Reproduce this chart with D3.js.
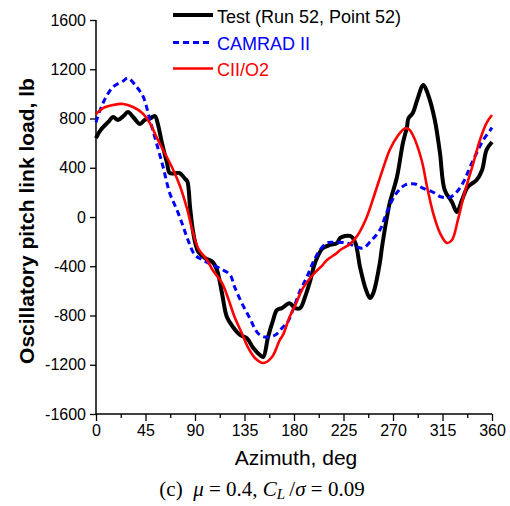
<!DOCTYPE html>
<html>
<head>
<meta charset="utf-8">
<script src="https://cdn.jsdelivr.net/npm/d3@7"></script>
<style>
  html, body { margin: 0; padding: 0; background: #fff; }
  svg { display: block; }
</style>
</head>
<body>
<svg id="chart" width="510" height="506"></svg>
<script>
// ---- data ----
const seriesNames = ["Test (Run 52, Point 52)", "CAMRAD II", "CII/O2"];

const testAz = [0, 3, 6.4, 11, 15.5, 20, 25, 29, 34, 40, 44.5, 49, 53.6, 56, 60, 64.5, 67, 72, 76, 81, 83, 85.5, 88, 90.5, 93, 99, 106, 110, 114.5, 119, 124.5, 131, 137, 143, 149, 152, 156.4, 161, 164.5, 169, 176, 181, 185.5, 190, 195, 199, 206, 213, 219, 222, 231, 235.5, 240, 245, 249, 252, 258, 260, 264.5, 267, 273.6, 279, 282.7, 284, 288, 292, 297.6, 302, 308, 312.7, 317, 323.6, 328, 332.7, 338, 346, 351, 355, 360];
const testVal = [640, 690, 730, 770, 812, 788, 820, 853, 810, 755, 790, 800, 820, 763, 600, 440, 357, 355, 357, 310, 290, 80, -105, -220, -284, -333, -365, -430, -617, -812, -893, -958, -983, -1064, -1121, -1137, -975, -837, -755, -740, -700, -740, -740, -650, -510, -375, -255, -227, -213, -170, -154, -203, -406, -580, -658, -620, -374, -244, 0, 114, 325, 601, 731, 800, 845, 950, 1072, 991, 788, 520, 219, 122, 41, 138, 244, 300, 382, 544, 609];

const camAz = [0, 6.4, 15.5, 24.8, 29, 37, 43, 49, 55, 61, 67, 73.6, 79, 83.6, 90, 97, 106, 115.5, 122, 126, 132.5, 140, 147, 153.6, 163, 170, 174.5, 179, 185.5, 191.8, 197, 203.6, 210, 215, 228, 237, 243, 249, 258, 264.5, 272, 281, 290, 297, 306, 314, 322, 328, 335, 340, 346, 352, 358, 360];
const camVal = [770, 926, 1056, 1105, 1129, 1056, 975, 788, 600, 406, 195, 57, -70, -187, -309, -349, -390, -430, -471, -568, -698, -825, -942, -975, -958, -893, -850, -755, -600, -487, -374, -268, -211, -205, -211, -244, -252, -203, -106, 40, 179, 260, 268, 235, 203, 162, 162, 203, 300, 406, 520, 625, 700, 725];

const ciiAz = [0, 6.4, 15.5, 24.8, 33.6, 42, 49, 55, 61, 69, 76, 82.7, 88, 93, 101, 106, 114.5, 120, 126, 132.5, 138, 144.5, 152, 160, 167, 170, 176, 181, 188, 197, 206, 210, 219, 222, 231, 238, 246, 253.6, 261, 267, 273.6, 281, 284, 288, 296, 301, 306.5, 312.7, 319, 323.6, 329, 335, 342, 349, 355, 360];
const ciiVal = [835, 885, 910, 918, 893, 845, 763, 650, 544, 406, 260, 70, -120, -256, -349, -430, -536, -658, -812, -942, -1056, -1145, -1186, -1137, -999, -958, -812, -720, -580, -471, -390, -349, -292, -268, -219, -146, -4, 195, 395, 544, 650, 720, 715, 666, 463, 244, 32, -130, -211, -187, -24, 195, 406, 625, 763, 828];

const xTicks = [0, 45, 90, 135, 180, 225, 270, 315, 360];
const xMinorTicks = [22.5, 67.5, 112.5, 157.5, 202.5, 247.5, 292.5, 337.5];
const yTicks = [-1600, -1200, -800, -400, 0, 400, 800, 1200, 1600];

// ---- drawing ----
const svg = d3.select("#chart");
const x = d3.scaleLinear().domain([0, 360]).range([96, 492]);
const y = d3.scaleLinear().domain([-1600, 1600]).range([414, 20]);

const sans = "'Liberation Sans', Arial, sans-serif";
const serif = "'Liberation Serif', 'Times New Roman', serif";
const plainFmt = d => String(d);

// axes
const xAxis = svg.append("g").attr("transform", `translate(0,${y(-1600)})`)
  .call(d3.axisBottom(x).tickValues(xTicks).tickSize(7).tickPadding(4).tickFormat(plainFmt));
const xMinor = svg.append("g").attr("transform", `translate(0,${y(-1600)})`)
  .call(d3.axisBottom(x).tickValues(xMinorTicks).tickSize(4).tickFormat(""));
const yAxis = svg.append("g").attr("transform", `translate(${x(0)},0)`)
  .call(d3.axisLeft(y).tickValues(yTicks).tickSize(6).tickPadding(4).tickFormat(plainFmt));

[xAxis, xMinor, yAxis].forEach(g => {
  g.select(".domain").attr("stroke", "#000").attr("stroke-width", 1.5);
  g.selectAll(".tick line").attr("stroke", "#000").attr("stroke-width", 1.3);
  g.selectAll(".tick text").attr("fill", "#000").attr("font-family", sans).attr("font-size", 16);
});
xMinor.select(".domain").remove();
xAxis.select(".domain").attr("d", `M${x(0)},0H${x(360)}`);
yAxis.select(".domain").attr("d", `M0,${y(-1600)}V${y(1600)}`);
xAxis.selectAll(".tick text").attr("dy", "0.71em");

// lines
const mk = (az, v) => az.map((a, i) => ({a, v: v[i]}));
const line = d3.line().x(d => x(d.a)).y(d => y(d.v)).curve(d3.curveCatmullRom.alpha(0.5));

svg.append("path").datum(mk(testAz, testVal)).attr("d", line)
  .attr("fill", "none").attr("stroke", "#000").attr("stroke-width", 4).attr("stroke-linejoin", "round");
svg.append("path").datum(mk(camAz, camVal)).attr("d", line)
  .attr("fill", "none").attr("stroke", "#0000ff").attr("stroke-width", 3).attr("stroke-dasharray", "6,4");
svg.append("path").datum(mk(ciiAz, ciiVal)).attr("d", line)
  .attr("fill", "none").attr("stroke", "#ff0000").attr("stroke-width", 2.6).attr("stroke-linejoin", "round");

// legend
const legend = [
  {name: seriesNames[0], color: "#000", w: 4, dash: null, ly: 15, ty: 22.5},
  {name: seriesNames[1], color: "#0000ff", w: 3, dash: "6,4", ly: 42.5, ty: 49.5},
  {name: seriesNames[2], color: "#ff0000", w: 2.6, dash: null, ly: 68.5, ty: 76}
];
legend.forEach(l => {
  svg.append("line").attr("x1", 173).attr("x2", 213).attr("y1", l.ly).attr("y2", l.ly)
    .attr("stroke", l.color).attr("stroke-width", l.w).attr("stroke-dasharray", l.dash);
  svg.append("text").attr("x", 217).attr("y", l.ty).text(l.name)
    .attr("font-family", sans).attr("font-size", 18).attr("fill", l.color);
});

// axis titles
svg.append("text").attr("x", 296).attr("y", 465).attr("text-anchor", "middle")
  .attr("font-family", sans).attr("font-size", 21).text("Azimuth, deg");
svg.append("text").attr("transform", "translate(34,221) rotate(-90)").attr("text-anchor", "middle")
  .attr("font-family", sans).attr("font-size", 21).attr("font-weight", "bold")
  .text("Oscillatory pitch link load, lb");

// caption
const cap = svg.append("text").attr("x", 262).attr("y", 496).attr("text-anchor", "middle")
  .attr("font-family", serif).attr("font-size", 21);
cap.append("tspan").text("(c)\u00a0\u00a0");
cap.append("tspan").attr("font-style", "italic").text("\u03bc");
cap.append("tspan").text("\u2005=\u20050.4, ");
cap.append("tspan").attr("font-style", "italic").text("C");
cap.append("tspan").attr("font-style", "italic").attr("font-size", 15).attr("dy", 3).text("L");
cap.append("tspan").attr("dy", -3).text("\u2009/");
cap.append("tspan").attr("font-style", "italic").text("\u03c3");
cap.append("tspan").text("\u2005=\u20050.09");
</script>
</body>
</html>
